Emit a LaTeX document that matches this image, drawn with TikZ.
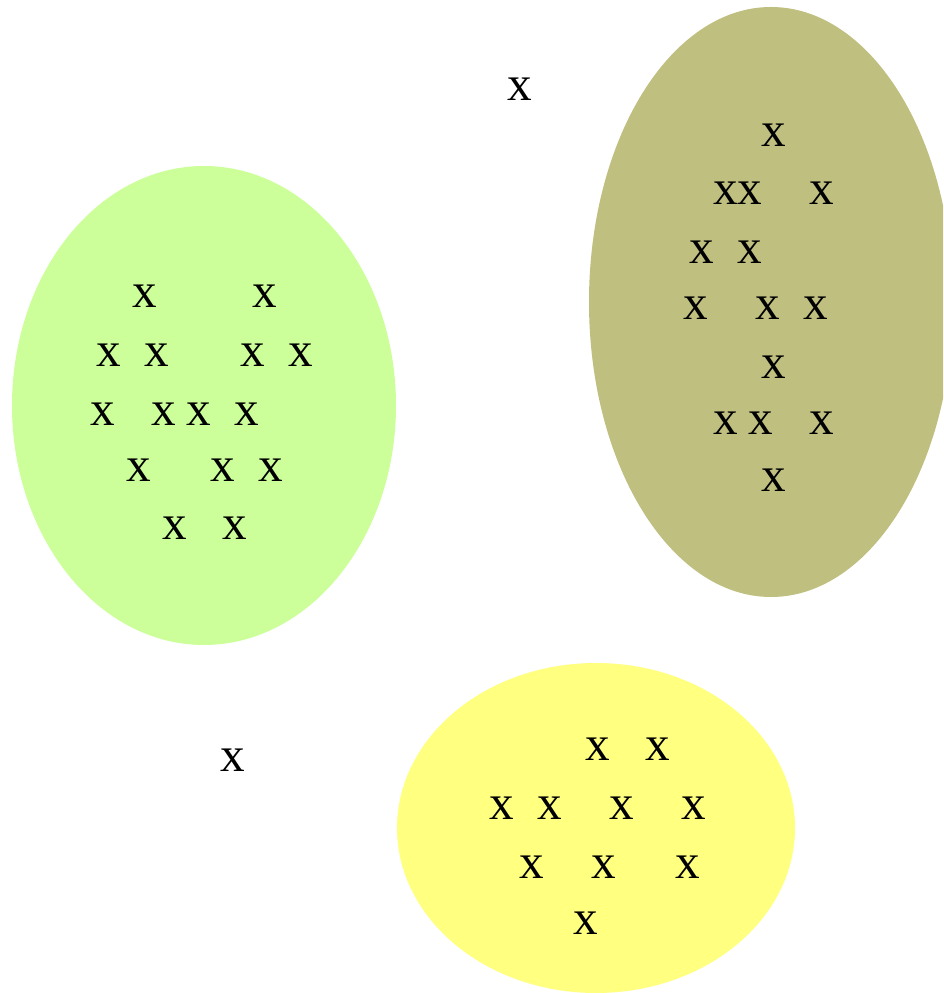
\documentclass[tikz,border=0pt]{standalone}
\usepackage{fontspec}
\setmainfont{Liberation Serif}
\usepackage{xcolor}
\usepackage{tikz}
\definecolor{lime}{HTML}{CCFF99}
\definecolor{olive}{HTML}{BFBF80}
\definecolor{lemon}{HTML}{FFFF80}
\tikzset{blob/.style={draw=none},pt/.style={inner sep=1pt,xshift=.02cm,font=\fontsize{14}{16}\selectfont}}
\begin{document}
\begin{tikzpicture}[x=1cm,y=1cm]
 \clip (0,0) rectangle (9.43,9.93);
 \fill[blob,lime] (2.04,5.875) ellipse [x radius=1.92,y radius=2.395];
 \fill[blob,olive] (7.71,6.91) ellipse [x radius=1.82,y radius=2.95];
 \fill[blob,lemon] (5.96,1.65) ellipse [x radius=1.99,y radius=1.65];
 % green cluster
 \foreach \p [count=\i] in {(1.43,6.97),(2.63,6.97),(1.07,6.38),(1.55,6.38),(2.51,6.38),(2.99,6.38),(1.01,5.79),(1.62,5.79),(1.97,5.79),(2.45,5.79),(1.37,5.23),(2.21,5.23),(2.69,5.23),(1.73,4.65),(2.33,4.65)}
  \node[pt] (g\i) at \p {x};
 % olive cluster
 \foreach \p [count=\i] in {(7.72,8.58),(7.24,8.00),(7.48,8.00),(8.20,8.00),(7.00,7.41),(7.48,7.41),(6.94,6.85),(7.66,6.85),(8.14,6.85),(7.72,6.26),(7.24,5.70),(7.59,5.70),(8.20,5.70),(7.72,5.13)}
  \node[pt] (o\i) at \p {x};
 % yellow cluster
 \foreach \p [count=\i] in {(5.96,2.44),(6.56,2.44),(5.00,1.85),(5.48,1.85),(6.20,1.85),(6.92,1.85),(5.30,1.26),(6.02,1.26),(6.86,1.26),(5.84,0.70)}
  \node[pt] (y\i) at \p {x};
 % outliers
 \node[pt] (s1) at (5.18,9.04) {x}; \node[pt] (s2) at (2.31,2.33) {x};
\end{tikzpicture}
\end{document}
